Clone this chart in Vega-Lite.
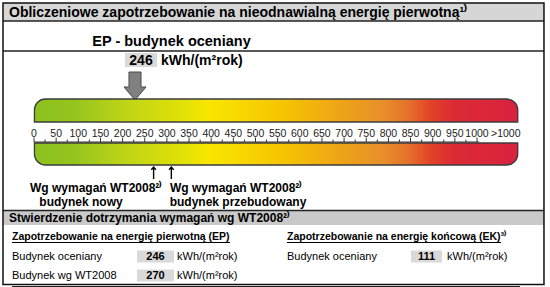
{
  "$schema": "https://vega.github.io/schema/vega-lite/v6.json",
  "width": 550,
  "height": 287,
  "padding": 0,
  "autosize": {"type": "fit", "contains": "padding"},
  "config": {"view": {"stroke": null}, "axis": {"disable": true}, "text": {"font": "Liberation Sans"}},
  "datasets": {
    "card": [{"card": "Świadectwo charakterystyki energetycznej"}],
    "texts": [
      {"id": "title", "text": "Obliczeniowe zapotrzebowanie na nieodnawialną energię pierwotną¹⁾"},
      {"id": "ep", "text": "EP - budynek oceniany"},
      {"id": "unitbig", "text": "kWh/(m²rok)"},
      {"id": "wt1", "text": "Wg wymagań WT2008²⁾"},
      {"id": "wt2", "text": "Wg wymagań WT2008²⁾"},
      {"id": "nowy", "text": "budynek nowy"},
      {"id": "przeb", "text": "budynek przebudowany"},
      {"id": "check", "text": "Stwierdzenie dotrzymania wymagań wg WT2008²⁾"},
      {"id": "hEP", "text": "Zapotrzebowanie na energię pierwotną (EP)"},
      {"id": "hEK", "text": "Zapotrzebowanie na energię końcową (EK)³⁾"},
      {"id": "more", "text": ">1000"}
    ],
    "ticks": [
      {"v": 0, "major": true}, {"v": 25, "major": false}, {"v": 50, "major": true}, {"v": 75, "major": false},
      {"v": 100, "major": true}, {"v": 125, "major": false}, {"v": 150, "major": true}, {"v": 175, "major": false},
      {"v": 200, "major": true}, {"v": 225, "major": false}, {"v": 250, "major": true}, {"v": 275, "major": false},
      {"v": 300, "major": true}, {"v": 325, "major": false}, {"v": 350, "major": true}, {"v": 375, "major": false},
      {"v": 400, "major": true}, {"v": 425, "major": false}, {"v": 450, "major": true}, {"v": 475, "major": false},
      {"v": 500, "major": true}, {"v": 525, "major": false}, {"v": 550, "major": true}, {"v": 575, "major": false},
      {"v": 600, "major": true}, {"v": 625, "major": false}, {"v": 650, "major": true}, {"v": 675, "major": false},
      {"v": 700, "major": true}, {"v": 725, "major": false}, {"v": 750, "major": true}, {"v": 775, "major": false},
      {"v": 800, "major": true}, {"v": 825, "major": false}, {"v": 850, "major": true}, {"v": 875, "major": false},
      {"v": 900, "major": true}, {"v": 925, "major": false}, {"v": 950, "major": true}, {"v": 975, "major": false},
      {"v": 1000, "major": true}
    ],
    "wt": [
      {"label": "budynek nowy", "value": 270},
      {"label": "budynek przebudowany", "value": 310}
    ],
    "table": [
      {"id": "EP1", "label": "Budynek oceniany", "value": 246, "unit": "kWh/(m²rok)"},
      {"id": "EP2", "label": "Budynek wg WT2008", "value": 270, "unit": "kWh/(m²rok)"},
      {"id": "EK1", "label": "Budynek oceniany", "value": 111, "unit": "kWh/(m²rok)"}
    ]
  },
  "layer": [
    {
      "data": {"name": "card"},
      "mark": {"type": "rect", "fill": "#d6d6d6"},
      "encoding": {
        "x": {"datum": -70, "scale": {"domain": [-76.75, 1164.8], "nice": false, "zero": false}},
        "x2": {"datum": 1151.2},
        "y": {"datum": 3, "scale": {"domain": [0, 287], "nice": false, "zero": false, "reverse": true}},
        "y2": {"datum": 21}
      }
    },
    {
      "data": {"name": "card"},
      "mark": {"type": "rect", "fill": "#c9c9c9"},
      "encoding": {"x": {"datum": -70}, "x2": {"datum": 1151.2}, "y": {"datum": 211}, "y2": {"datum": 225}}
    },
    {
      "data": {"name": "card"},
      "mark": {"type": "rule", "stroke": "#222", "strokeWidth": 1.3},
      "encoding": {"x": {"datum": -70}, "x2": {"datum": 1151.2}, "y": {"datum": 21}}
    },
    {
      "data": {"name": "card"},
      "mark": {"type": "rule", "stroke": "#222", "strokeWidth": 1.3},
      "encoding": {"x": {"datum": -70}, "x2": {"datum": 1151.2}, "y": {"datum": 51}}
    },
    {
      "data": {"name": "card"},
      "mark": {"type": "rule", "stroke": "#222", "strokeWidth": 1.3},
      "encoding": {"x": {"datum": -70}, "x2": {"datum": 1151.2}, "y": {"datum": 210.5}}
    },
    {
      "data": {"name": "card"},
      "mark": {"type": "rule", "stroke": "#222", "strokeWidth": 1},
      "encoding": {"x": {"datum": -49.7}, "x2": {"datum": 1097}, "y": {"datum": 286.5}}
    },
    {
      "data": {"name": "card"},
      "mark": {"type": "rect", "fillOpacity": 0, "stroke": "#111", "strokeWidth": 1.5},
      "encoding": {"x": {"datum": -70}, "x2": {"datum": 1151.2}, "y": {"datum": 3}, "y2": {"datum": 284.5}}
    },
    {
      "data": {"name": "texts"},
      "transform": [{"filter": "datum.id == 'title'"}],
      "mark": {"type": "text", "align": "left", "baseline": "middle", "fontSize": 14, "fontWeight": "bold"},
      "encoding": {"x": {"datum": -56.4}, "y": {"datum": 12.5}, "text": {"field": "text"}}
    },
    {
      "data": {"name": "texts"},
      "transform": [{"filter": "datum.id == 'ep'"}],
      "mark": {"type": "text", "align": "center", "baseline": "middle", "fontSize": 14.5, "fontWeight": "bold"},
      "encoding": {"x": {"datum": 310.4}, "y": {"datum": 42}, "text": {"field": "text"}}
    },
    {
      "data": {"name": "table"},
      "transform": [{"filter": "datum.id == 'EP1'"}],
      "mark": {"type": "rect", "fill": "#d9d9d9"},
      "encoding": {"x": {"datum": 205.4}, "x2": {"datum": 277.7}, "y": {"datum": 53}, "y2": {"datum": 67}}
    },
    {
      "data": {"name": "table"},
      "transform": [{"filter": "datum.id == 'EP1'"}],
      "mark": {"type": "text", "align": "center", "baseline": "middle", "fontSize": 14, "fontWeight": "bold"},
      "encoding": {"x": {"datum": 241.5}, "y": {"datum": 60.5}, "text": {"field": "value"}}
    },
    {
      "data": {"name": "texts"},
      "transform": [{"filter": "datum.id == 'unitbig'"}],
      "mark": {"type": "text", "align": "left", "baseline": "middle", "fontSize": 14, "fontWeight": "bold"},
      "encoding": {"x": {"datum": 286.7}, "y": {"datum": 60.5}, "text": {"field": "text"}}
    },
    {
      "data": {"name": "table"},
      "transform": [{"filter": "datum.id == 'EP1'"}],
      "mark": {"type": "point", "filled": true, "fill": "#808080", "stroke": "#4a4a4a", "strokeWidth": 1, "opacity": 1, "size": 784,
        "shape": "M-0.43,-1L0.43,-1L0.43,0.07L0.79,0.07L0,1L-0.79,0.07L-0.43,0.07Z"},
      "encoding": {"x": {"datum": 228}, "y": {"datum": 86}}
    },
    {
      "data": {"name": "card"},
      "mark": {"type": "rect", "stroke": "#3c3c3c", "strokeWidth": 1.3, "cornerRadiusTopLeft": 11, "cornerRadiusTopRight": 11,
        "fill": {"gradient": "linear", "x1": 0, "x2": 1, "y1": 0, "y2": 0, "stops": [
          {"offset": 0, "color": "#8cc21e"}, {"offset": 0.08, "color": "#95c41f"}, {"offset": 0.2, "color": "#c2d616"},
          {"offset": 0.3, "color": "#dfe008"}, {"offset": 0.36, "color": "#f8e600"}, {"offset": 0.45, "color": "#f8d200"},
          {"offset": 0.52, "color": "#f5c300"}, {"offset": 0.64, "color": "#eda21a"}, {"offset": 0.72, "color": "#e8902a"},
          {"offset": 0.78, "color": "#e46c2a"}, {"offset": 0.82, "color": "#e04228"}, {"offset": 0.87, "color": "#dc2a35"},
          {"offset": 1, "color": "#d9223f"}]}},
      "encoding": {"x": {"datum": 1}, "x2": {"datum": 1092}, "y": {"datum": 99}, "y2": {"datum": 122}}
    },
    {
      "data": {"name": "card"},
      "mark": {"type": "rect", "stroke": "#3c3c3c", "strokeWidth": 1.3, "cornerRadiusBottomLeft": 11, "cornerRadiusBottomRight": 11,
        "fill": {"gradient": "linear", "x1": 0, "x2": 1, "y1": 0, "y2": 0, "stops": [
          {"offset": 0, "color": "#8cc21e"}, {"offset": 0.08, "color": "#95c41f"}, {"offset": 0.2, "color": "#c2d616"},
          {"offset": 0.3, "color": "#dfe008"}, {"offset": 0.36, "color": "#f8e600"}, {"offset": 0.45, "color": "#f8d200"},
          {"offset": 0.52, "color": "#f5c300"}, {"offset": 0.64, "color": "#eda21a"}, {"offset": 0.72, "color": "#e8902a"},
          {"offset": 0.78, "color": "#e46c2a"}, {"offset": 0.82, "color": "#e04228"}, {"offset": 0.87, "color": "#dc2a35"},
          {"offset": 1, "color": "#d9223f"}]}},
      "encoding": {"x": {"datum": 1}, "x2": {"datum": 1092}, "y": {"datum": 143}, "y2": {"datum": 165}}
    },
    {
      "data": {"name": "card"},
      "mark": {"type": "rule", "stroke": "#333", "strokeWidth": 1},
      "encoding": {"x": {"datum": 0}, "x2": {"datum": 1005}, "y": {"datum": 142}}
    },
    {
      "data": {"name": "ticks"},
      "transform": [{"filter": "datum.major"}],
      "mark": {"type": "rule", "stroke": "#333", "strokeWidth": 1},
      "encoding": {"x": {"field": "v", "type": "quantitative"}, "y": {"datum": 142}, "y2": {"datum": 137.5}}
    },
    {
      "data": {"name": "ticks"},
      "transform": [{"filter": "!datum.major"}],
      "mark": {"type": "rule", "stroke": "#333", "strokeWidth": 1},
      "encoding": {"x": {"field": "v", "type": "quantitative"}, "y": {"datum": 142}, "y2": {"datum": 139.5}}
    },
    {
      "data": {"name": "ticks"},
      "transform": [{"filter": "datum.major"}],
      "mark": {"type": "text", "align": "center", "baseline": "middle", "fontSize": 10.5, "fill": "#222"},
      "encoding": {"x": {"field": "v", "type": "quantitative"}, "y": {"datum": 134}, "text": {"field": "v"}}
    },
    {
      "data": {"name": "texts"},
      "transform": [{"filter": "datum.id == 'more'"}],
      "mark": {"type": "text", "align": "center", "baseline": "middle", "fontSize": 10.5, "fill": "#222"},
      "encoding": {"x": {"datum": 1065}, "y": {"datum": 134}, "text": {"field": "text"}}
    },
    {
      "data": {"name": "wt"},
      "mark": {"type": "point", "filled": false, "stroke": "#000", "strokeWidth": 1.4, "opacity": 1, "size": 144,
        "shape": "M0,-1L0,1M-0.38,-0.55L0,-1L0.38,-0.55"},
      "encoding": {"x": {"field": "value", "type": "quantitative"}, "y": {"datum": 173}}
    },
    {
      "data": {"name": "texts"},
      "transform": [{"filter": "datum.id == 'wt1'"}],
      "mark": {"type": "text", "align": "left", "baseline": "middle", "fontSize": 12, "fontWeight": "bold"},
      "encoding": {"x": {"datum": -9}, "y": {"datum": 188}, "text": {"field": "text"}}
    },
    {
      "data": {"name": "texts"},
      "transform": [{"filter": "datum.id == 'wt2'"}],
      "mark": {"type": "text", "align": "left", "baseline": "middle", "fontSize": 12, "fontWeight": "bold"},
      "encoding": {"x": {"datum": 307}, "y": {"datum": 188}, "text": {"field": "text"}}
    },
    {
      "data": {"name": "texts"},
      "transform": [{"filter": "datum.id == 'nowy'"}],
      "mark": {"type": "text", "align": "center", "baseline": "middle", "fontSize": 12, "fontWeight": "bold"},
      "encoding": {"x": {"datum": 106.1}, "y": {"datum": 202}, "text": {"field": "text"}}
    },
    {
      "data": {"name": "texts"},
      "transform": [{"filter": "datum.id == 'przeb'"}],
      "mark": {"type": "text", "align": "center", "baseline": "middle", "fontSize": 12, "fontWeight": "bold"},
      "encoding": {"x": {"datum": 460.5}, "y": {"datum": 202}, "text": {"field": "text"}}
    },
    {
      "data": {"name": "texts"},
      "transform": [{"filter": "datum.id == 'check'"}],
      "mark": {"type": "text", "align": "left", "baseline": "middle", "fontSize": 12, "fontWeight": "bold"},
      "encoding": {"x": {"datum": -56.4}, "y": {"datum": 218}, "text": {"field": "text"}}
    },
    {
      "data": {"name": "texts"},
      "transform": [{"filter": "datum.id == 'hEP'"}],
      "mark": {"type": "text", "align": "left", "baseline": "middle", "fontSize": 10.5, "fontWeight": "bold"},
      "encoding": {"x": {"datum": -49.7}, "y": {"datum": 237}, "text": {"field": "text"}}
    },
    {
      "data": {"name": "texts"},
      "transform": [{"filter": "datum.id == 'hEP'"}],
      "mark": {"type": "rule", "stroke": "#000", "strokeWidth": 1},
      "encoding": {"x": {"datum": -49.7}, "x2": {"datum": 442.4}, "y": {"datum": 242.5}}
    },
    {
      "data": {"name": "texts"},
      "transform": [{"filter": "datum.id == 'hEK'"}],
      "mark": {"type": "text", "align": "left", "baseline": "middle", "fontSize": 10.5, "fontWeight": "bold"},
      "encoding": {"x": {"datum": 571.1}, "y": {"datum": 237}, "text": {"field": "text"}}
    },
    {
      "data": {"name": "texts"},
      "transform": [{"filter": "datum.id == 'hEK'"}],
      "mark": {"type": "rule", "stroke": "#000", "strokeWidth": 1},
      "encoding": {"x": {"datum": 571.1}, "x2": {"datum": 1054.2}, "y": {"datum": 242.5}}
    },
    {
      "data": {"name": "table"},
      "transform": [{"filter": "datum.id == 'EP1'"}],
      "layer": [
        {"mark": {"type": "rect", "fill": "#d9d9d9"},
         "encoding": {"x": {"datum": 232.5}, "x2": {"datum": 316}, "y": {"datum": 250.5}, "y2": {"datum": 262.5}}},
        {"mark": {"type": "text", "align": "left", "baseline": "middle", "fontSize": 11},
         "encoding": {"x": {"datum": -49.7}, "y": {"datum": 256.5}, "text": {"field": "label"}}},
        {"mark": {"type": "text", "align": "center", "baseline": "middle", "fontSize": 11, "fontWeight": "bold"},
         "encoding": {"x": {"datum": 274.3}, "y": {"datum": 256.5}, "text": {"field": "value"}}},
        {"mark": {"type": "text", "align": "left", "baseline": "middle", "fontSize": 11},
         "encoding": {"x": {"datum": 322.8}, "y": {"datum": 256.5}, "text": {"field": "unit"}}}
      ]
    },
    {
      "data": {"name": "table"},
      "transform": [{"filter": "datum.id == 'EP2'"}],
      "layer": [
        {"mark": {"type": "rect", "fill": "#d9d9d9"},
         "encoding": {"x": {"datum": 232.5}, "x2": {"datum": 316}, "y": {"datum": 269.5}, "y2": {"datum": 281.5}}},
        {"mark": {"type": "text", "align": "left", "baseline": "middle", "fontSize": 11},
         "encoding": {"x": {"datum": -49.7}, "y": {"datum": 275.5}, "text": {"field": "label"}}},
        {"mark": {"type": "text", "align": "center", "baseline": "middle", "fontSize": 11, "fontWeight": "bold"},
         "encoding": {"x": {"datum": 274.3}, "y": {"datum": 275.5}, "text": {"field": "value"}}},
        {"mark": {"type": "text", "align": "left", "baseline": "middle", "fontSize": 11},
         "encoding": {"x": {"datum": 322.8}, "y": {"datum": 275.5}, "text": {"field": "unit"}}}
      ]
    },
    {
      "data": {"name": "table"},
      "transform": [{"filter": "datum.id == 'EK1'"}],
      "layer": [
        {"mark": {"type": "rect", "fill": "#d9d9d9"},
         "encoding": {"x": {"datum": 851}, "x2": {"datum": 921}, "y": {"datum": 250.5}, "y2": {"datum": 262.5}}},
        {"mark": {"type": "text", "align": "left", "baseline": "middle", "fontSize": 11},
         "encoding": {"x": {"datum": 571.1}, "y": {"datum": 256.5}, "text": {"field": "label"}}},
        {"mark": {"type": "text", "align": "center", "baseline": "middle", "fontSize": 11, "fontWeight": "bold"},
         "encoding": {"x": {"datum": 886}, "y": {"datum": 256.5}, "text": {"field": "value"}}},
        {"mark": {"type": "text", "align": "left", "baseline": "middle", "fontSize": 11},
         "encoding": {"x": {"datum": 932.3}, "y": {"datum": 256.5}, "text": {"field": "unit"}}}
      ]
    }
  ]
}
